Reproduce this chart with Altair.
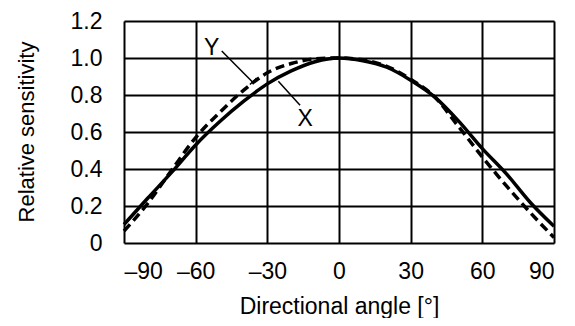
import altair as alt
import pandas as pd

# ---- data ----
angles = [-90, -80, -70, -60, -50, -40, -30, -20, -10, 0, 10, 20, 30, 40, 50, 60, 70, 80, 90]
x_sens = [0.10, 0.243, 0.383, 0.53, 0.655, 0.765, 0.86, 0.93, 0.98, 1.0,
          0.985, 0.95, 0.88, 0.79, 0.66, 0.51, 0.375, 0.22, 0.09]
y_sens = [0.065, 0.215, 0.395, 0.57, 0.705, 0.825, 0.92, 0.97, 0.995, 1.0,
          0.99, 0.955, 0.885, 0.79, 0.63, 0.465, 0.31, 0.165, 0.03]

x_ticks = [-90, -60, -30, 0, 30, 60, 90]
y_ticks = [0, 0.2, 0.4, 0.6, 0.8, 1.0, 1.2]

label_names = ["Y", "X"]
label_angle = [-53.3, -14.2]
label_value = [1.055, 0.668]

leader_a1 = [-49.1, -37.3, -25.4]
leader_v1 = [1.038, 0.857, 0.874]
leader_a2 = [-35.9, -34.5, -16.3]
leader_v2 = [0.866, 0.891, 0.745]

FONT = "Liberation Sans"

curves = pd.DataFrame({
    "angle": angles * 2,
    "value": x_sens + y_sens,
    "series": ["X"] * len(angles) + ["Y"] * len(angles),
})
labels = pd.DataFrame({"angle": label_angle, "value": label_value, "name": label_names})
leaders = pd.DataFrame({"angle": leader_a1, "value": leader_v1,
                        "angle2": leader_a2, "value2": leader_v2})

x_enc = alt.X(
    "angle:Q",
    scale=alt.Scale(domain=[-90, 90], nice=False, zero=False),
    title="Directional angle [°]",
    axis=alt.Axis(
        values=x_ticks,
        grid=True, gridColor="black", gridWidth=2, gridOpacity=1,
        domain=False, ticks=False, tickSize=0,
        labelFont=FONT, labelFontSize=23, labelColor="black",
        labelBaseline="alphabetic", labelPadding=35,
        labelExpr="datum.value < 0 ? '\u2013' + abs(datum.value) : '' + datum.value",
        titleFont=FONT, titleFontSize=23, titleFontWeight="normal", titleColor="black",
        titleX=215, titleY=70, titleBaseline="alphabetic", titleAlign="center",
    ),
)
y_enc = alt.Y(
    "value:Q",
    scale=alt.Scale(domain=[0, 1.2], nice=False, zero=False),
    title="Relative sensitivity",
    axis=alt.Axis(
        values=y_ticks,
        grid=True, gridColor="black", gridWidth=2, gridOpacity=1,
        domain=False, ticks=False, tickSize=0,
        labelFont=FONT, labelFontSize=23, labelColor="black",
        labelBaseline="middle", labelPadding=22,
        labelExpr="datum.value == 0 ? '0' : format(datum.value, '.1f')",
        titleFont=FONT, titleFontSize=22, titleFontWeight="normal", titleColor="black",
        titleX=-91, titleY=110.5, titleAngle=270, titleBaseline="alphabetic", titleAlign="center",
    ),
)

solid = alt.Chart(curves).transform_filter(alt.datum.series == "X").mark_line(
    color="black", strokeWidth=3.5, interpolate="monotone"
).encode(x=x_enc, y=y_enc)

dashed = alt.Chart(curves).transform_filter(alt.datum.series == "Y").mark_line(
    color="black", strokeWidth=3.5, strokeDash=[9, 5], interpolate="monotone"
).encode(x=x_enc, y=y_enc)

lead = alt.Chart(leaders).mark_rule(color="black", strokeWidth=1.5).encode(
    x=x_enc, y=y_enc, x2=alt.X2("angle2:Q"), y2=alt.Y2("value2:Q")
)

txt = alt.Chart(labels).mark_text(
    font=FONT, fontSize=23, color="black", align="center", baseline="middle"
).encode(x=x_enc, y=y_enc, text="name:N")

chart = alt.layer(solid, dashed, lead, txt).properties(
    width=430, height=222,
    autosize=alt.AutoSizeParams(type="none"),
    padding={"left": 116, "top": 13, "right": 13, "bottom": 75},
).configure_view(stroke="black", strokeWidth=3).configure(background="white")

chart.save("out.html", embed_options={"renderer": "svg", "actions": False})
